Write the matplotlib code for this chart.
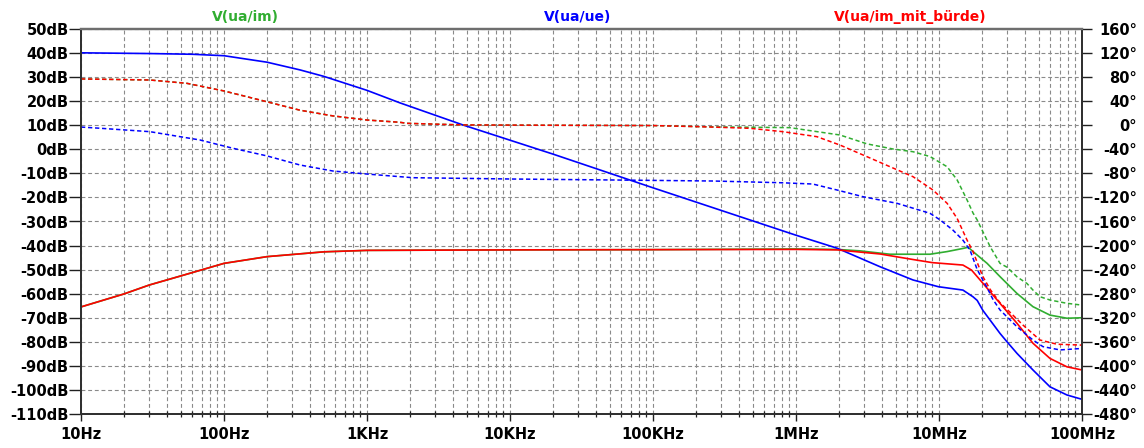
import matplotlib
matplotlib.use("Agg")
import matplotlib.pyplot as plt
from matplotlib.ticker import LogLocator, NullFormatter

# ---- Frequency response data (magnitude in dB, phase in degrees) ----
mag_im_freq = [10, 20, 30, 50, 100, 200, 500, 1e3, 1e4, 1e5, 1e6, 1.94e6, 2.8e6,
               4.54e6, 8.65e6, 11.4e6, 14.7e6, 16.0e6, 17.3e6, 21.7e6, 26.7e6,
               35.1e6, 45.4e6, 59.7e6, 78.5e6, 1e8]
mag_im = [-65.5, -60.1, -56.4, -52.6, -47.4, -44.6, -42.6, -42.0, -41.8, -41.7,
          -41.4, -41.6, -42.2, -43.6, -43.6, -42.5, -41.2, -40.7, -42.5, -47.4,
          -52.9, -59.9, -65.4, -68.9, -70.2, -70.0]

phase_im_freq = [10, 30.4, 55, 100, 200, 340, 578, 1e3, 1.7e3, 1.9e3, 4.7e3, 1.9e4,
                 1e5, 2.13e5, 9.08e5, 1.31e6, 2.03e6, 3.14e6, 4.77e6, 6.58e6,
                 8.65e6, 11.4e6, 13.4e6, 15.7e6, 17.3e6, 18.5e6, 22.8e6, 26.7e6,
                 29.9e6, 35.1e6, 41.2e6, 45.4e6, 50.8e6, 59.7e6, 78.5e6, 1e8]
phase_im = [77, 75.2, 69.7, 57, 39, 25, 15.5, 8.7, 4.9, 3.2, 0.5, 0, -0.5, -2.4,
            -4, -9.6, -16.2, -31, -39.5, -44, -52, -69, -91, -124, -146, -157.5,
            -202, -229.5, -236, -252, -263, -274, -285, -290.5, -296, -299]

mag_ue_freq = [10, 30, 60, 100, 200, 340, 500, 1e3, 1.7e3, 4.7e3, 2e4, 1e5,
               7.73e5, 1e6, 1.94e6, 3.87e6, 6.58e6, 9.9e6, 14.7e6, 17.3e6, 18.5e6,
               20.3e6, 26.7e6, 29.9e6, 35.1e6, 45.4e6, 59.7e6, 78.5e6, 1e8]
mag_ue = [40.1, 39.8, 39.5, 38.9, 36.2, 33.0, 30.3, 24.5, 19.3, 10.1, -2.0, -16.0,
          -33.5, -35.7, -41.1, -48.8, -54.3, -57.1, -58.5, -61.3, -62.8, -67.0,
          -76.5, -80.0, -84.8, -91.7, -98.7, -102.1, -103.9]

phase_ue_freq = [10, 13.6, 30.4, 67.9, 115.6, 200, 340, 578, 1e3, 1.7e3, 2.1e3,
                 1.05e4, 5.25e4, 2.63e5, 7.73e5, 1.31e6, 1.94e6, 2.94e6, 5.09e6,
                 8.65e6, 10.2e6, 12.5e6, 14.7e6, 16.5e6, 18.5e6, 21.7e6, 23.9e6,
                 26.7e6, 35.1e6, 45.4e6, 53.3e6, 70.2e6, 1e8]
phase_ue = [-3, -5, -10.7, -24.5, -38.3, -51, -66.1, -76.1, -81.1, -85.5, -87.2,
            -89.4, -91.0, -92.7, -95.5, -97.7, -107.7, -118.8, -129.8, -146.4,
            -157.5, -174.2, -191, -208, -240, -270, -290, -307, -335, -357, -368,
            -373.5, -371]

mag_buerde_freq = [10, 20, 30, 50, 100, 200, 500, 1e3, 1e4, 1e5, 1e6, 1.94e6,
                   3.87e6, 6.58e6, 9.0e6, 14.7e6, 16.9e6, 20.3e6, 26.7e6, 35.1e6,
                   45.4e6, 59.7e6, 78.5e6, 1e8]
mag_buerde = [-65.5, -60.1, -56.4, -52.6, -47.4, -44.6, -42.6, -42.0, -41.8, -41.7,
              -41.6, -41.8, -43.5, -45.8, -47.1, -48.1, -50.2, -55.7, -64.0, -72.3,
              -80.6, -86.9, -90.4, -91.7]

phase_buerde_freq = [10, 30.4, 55, 100, 200, 340, 578, 1e3, 1.7e3, 1.9e3, 4.7e3,
                     1.9e4, 1e5, 2.13e5, 4.77e5, 8.11e5, 1.40e6, 2.03e6, 3.14e6,
                     4.54e6, 6.58e6, 9.08e6, 11.4e6, 13.4e6, 15.7e6, 17.3e6, 19.4e6,
                     20.3e6, 22.8e6, 26.7e6, 29.9e6, 38.6e6, 50.8e6, 66.8e6, 1e8]
phase_buerde = [77, 75.2, 69.7, 57, 39, 25, 15.5, 8.7, 4.9, 3.2, 0.5, 0, -0.5, -2.4,
                -5.1, -10.7, -19, -32.9, -52.3, -68.9, -85.5, -107.7, -129.8, -155,
                -190.8, -210, -240.7, -251.8, -273, -295, -306, -332, -357, -364,
                -365.5]

trace_names = ["V(ua/im)", "V(ua/ue)", "V(ua/im_mit_bürde)"]

freq_ticks = [10, 100, 1e3, 1e4, 1e5, 1e6, 1e7, 1e8]
freq_labels = ["10Hz", "100Hz", "1KHz", "10KHz", "100KHz", "1MHz", "10MHz", "100MHz"]
db_ticks = list(range(-110, 51, 10))
deg_ticks = list(range(-480, 161, 40))

# ---- Styling ----
plt.rcParams["font.family"] = ["DejaVu Sans"]
plt.rcParams["font.weight"] = "bold"

GREEN = "#30ad30"
BLUE = "#0000ff"
RED = "#ff0000"
GRID = "#8a8a8a"
W, H = 1144, 448
L, R, T, B = 81, 1082, 29, 414

fig = plt.figure(figsize=(W / 100, H / 100), dpi=100)
ax = fig.add_axes([L / W, 1 - B / H, (R - L) / W, (B - T) / H])
ax2 = ax.twinx()

ax.set_xscale("log")
ax.set_xlim(10, 1e8)
ax.set_ylim(-110, 50)
ax2.set_ylim(-480, 160)

grid_kw = dict(color=GRID, linewidth=0.8, linestyle=(0, (3.5, 2.5)))
ax.xaxis.set_minor_locator(LogLocator(base=10, subs=range(2, 10), numticks=20))
ax.xaxis.set_minor_formatter(NullFormatter())
ax.grid(True, which="both", axis="x", **grid_kw)
ax.grid(True, which="major", axis="y", **grid_kw)
ax.set_axisbelow(True)

# magnitude (solid) and phase (dashed) per trace
solid_kw = dict(linewidth=1.2, solid_joinstyle="round")
dash_kw = dict(linewidth=1.1, linestyle=(0, (2.8, 1.8)))
ax.plot(mag_im_freq, mag_im, color=GREEN, **solid_kw)
ax.plot(mag_ue_freq, mag_ue, color=BLUE, **solid_kw)
ax.plot(mag_buerde_freq, mag_buerde, color=RED, **solid_kw)
ax2.plot(phase_im_freq, phase_im, color=GREEN, **dash_kw)
ax2.plot(phase_ue_freq, phase_ue, color=BLUE, **dash_kw)
ax2.plot(phase_buerde_freq, phase_buerde, color=RED, **dash_kw)

# axes, ticks and labels
ax.set_xticks(freq_ticks)
ax.set_xticklabels(freq_labels)
ax.set_yticks(db_ticks)
ax.set_yticklabels([f"{v}dB" for v in db_ticks])
ax2.set_yticks(deg_ticks)
ax2.set_yticklabels([f"{v}°" for v in deg_ticks])

ax.tick_params(axis="y", which="major", direction="out", length=8.5, width=1.0,
               pad=0.5, labelsize=10.5, colors="#202020", labelcolor="black")
ax.tick_params(axis="x", which="major", direction="out", length=5, width=1.0,
               pad=4, labelsize=10.5, colors="#202020", labelcolor="black")
ax.tick_params(axis="x", which="minor", direction="inout", length=5, width=0.9,
               colors="#202020")
ax2.tick_params(axis="y", which="major", direction="out", length=7, width=1.0,
                pad=32.5, labelsize=10.5, colors="#202020", labelcolor="black")
for lbl in ax2.get_yticklabels():
    lbl.set_horizontalalignment("right")

for a in (ax, ax2):
    for side in ("left", "bottom", "right"):
        a.spines[side].set_color("#303030")
        a.spines[side].set_linewidth(1.3)
    a.spines["top"].set_color("#6e6e6e")
    a.spines["top"].set_linewidth(1.6)

# trace names above the plot
title_x = [245, 578, 910]
for name, col, x in zip(trace_names, [GREEN, BLUE, RED], title_x):
    fig.text(x / W, 1 - 17 / H, name, color=col, ha="center", va="center",
             fontsize=10, fontweight="bold")

fig.savefig("out.png", dpi=100, facecolor="white")
